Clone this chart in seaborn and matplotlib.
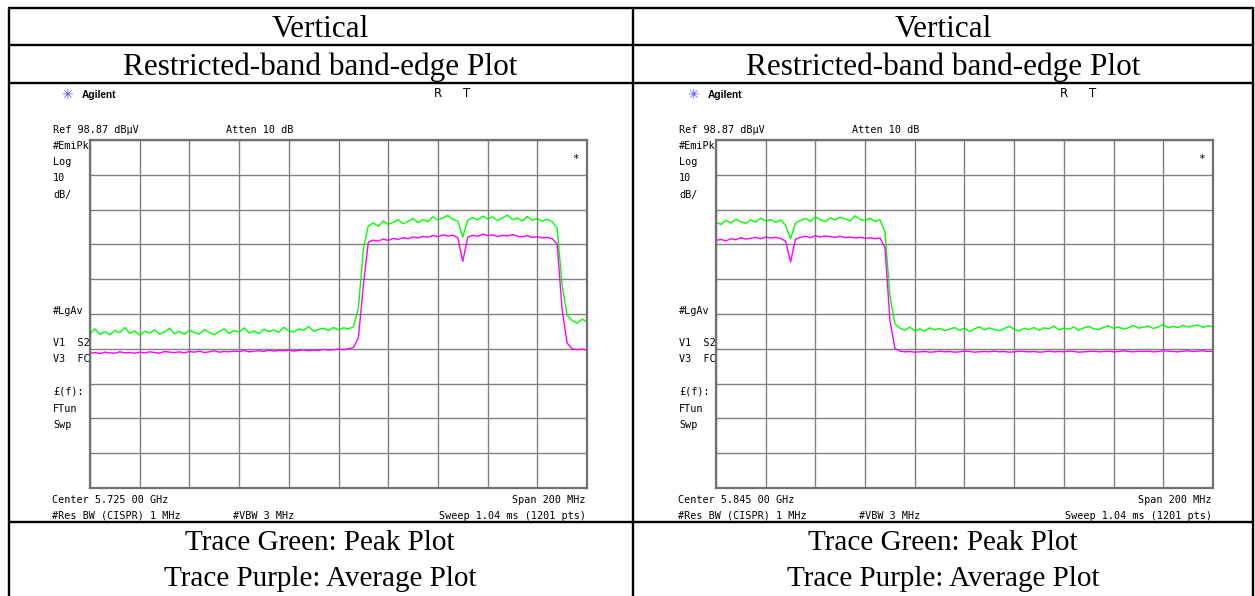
import numpy as np
import pandas as pd
import seaborn as sns
import matplotlib.pyplot as plt
from matplotlib.lines import Line2D

ref_level = 98.87
db_per_div = 10
span_mhz = 200
centers_mhz = [5725.0, 5845.0]
center_labels = ["Center 5.725 00 GHz", "Center 5.845 00 GHz"]

peak_left = [
    43.2, 44.6, 43.0, 43.8, 42.9, 44.1, 43.5, 45.0, 43.3, 44.0,
    42.8, 43.9, 43.4, 44.3, 43.1, 43.7, 44.8, 43.2, 43.9, 43.0,
    44.2, 43.5, 43.1, 44.4, 43.6, 42.9, 43.8, 44.6, 43.3, 44.1,
    43.7, 44.9, 43.4, 44.0, 43.2, 44.5, 43.8, 44.3, 43.6, 45.1,
    44.0, 43.7, 44.6, 44.2, 45.3, 43.9, 44.4, 44.8, 44.1, 45.0,
    44.3, 44.9, 44.6, 45.2, 50.5, 67.5, 74.2,
    75.0, 74.1, 75.6, 74.6, 75.2, 76.0, 74.8, 75.5, 76.3, 75.1,
    76.0, 75.4, 76.8, 75.9, 76.5, 77.2, 76.1, 75.6, 71.0,
    75.8, 76.6, 75.9, 77.0, 76.2, 76.8, 75.7, 76.5, 77.3, 76.0,
    76.4, 75.6, 76.9, 75.8, 76.3, 75.5, 76.1, 75.4,
    73.5, 57.0, 48.5, 47.0, 46.2, 47.4, 46.6,
]
avg_left = [
    37.6, 37.8, 37.5, 37.9, 37.7, 37.6, 38.0, 37.7, 37.8, 37.6,
    37.9, 37.7, 38.0, 37.8, 37.6, 38.1, 37.9, 37.8, 38.0, 37.7,
    38.1, 37.9, 38.2, 37.8, 38.0, 38.3, 37.9, 38.1, 38.0, 38.2,
    38.1, 38.4, 38.0, 38.2, 38.3, 38.1, 38.5, 38.2, 38.4, 38.3,
    38.5, 38.2, 38.4, 38.6, 38.3, 38.5, 38.4, 38.7, 38.5, 38.6,
    38.8, 38.6, 38.9, 39.2, 42.0, 57.0, 69.5,
    70.1, 69.8, 70.4, 70.0, 70.6, 70.3, 70.8, 70.5, 71.0, 70.7,
    71.2, 70.9, 71.4, 71.1, 71.6, 71.3, 71.5, 70.8, 64.0,
    70.9, 71.5, 71.2, 71.8, 71.4, 71.6, 71.1, 71.5, 71.3, 71.7,
    71.2, 71.0, 71.4, 70.9, 71.1, 70.7, 70.9, 70.5,
    69.0, 50.0, 40.5, 38.9, 38.6, 38.8, 38.5,
]
peak_right = [
    75.2, 74.6, 75.8, 75.0, 76.1, 75.4, 74.9, 75.9, 75.3, 76.4,
    75.6, 76.0, 75.2, 75.9, 74.4, 70.5,
    75.0, 75.8, 76.3, 75.5, 76.8, 76.0, 75.4, 76.5, 75.9, 76.7,
    76.2, 75.6, 77.1, 76.0, 75.8, 76.4, 75.5, 75.9,
    72.5, 54.0, 46.0,
    44.8, 44.2, 45.1, 44.0, 44.6, 43.9, 44.9, 44.3, 44.7, 44.1,
    44.5, 45.0, 44.2, 44.8, 43.8, 44.6, 45.2, 44.3, 44.9, 44.4,
    44.1, 44.7, 45.3, 44.5, 44.0, 44.8, 44.4, 45.0, 44.2, 44.9,
    44.6, 45.4, 44.3, 44.8, 44.5, 45.1, 44.2, 44.9, 45.3, 44.6,
    44.4, 45.0, 45.5, 44.7, 45.2, 44.5, 44.9, 45.6, 44.8, 45.1,
    45.4, 44.7, 45.2, 45.8, 44.9, 45.3, 45.0, 45.6, 45.1, 45.4,
    45.7, 45.0, 45.5, 45.2,
]
avg_right = [
    70.0, 70.3, 69.9, 70.5, 70.2, 70.8, 70.4, 70.6, 70.9, 70.5,
    71.0, 70.7, 70.9, 70.6, 69.8, 63.8,
    70.4, 70.9, 71.2, 70.8, 71.4, 71.0, 71.3, 71.1, 70.9, 71.2,
    70.8, 71.0, 70.7, 70.9, 70.6, 70.8, 70.5, 70.7,
    68.0, 47.0, 39.0,
    38.2, 38.0, 38.1, 37.9, 38.0, 38.1, 37.9, 38.0, 38.2, 38.0,
    38.1, 37.9, 38.0, 38.2, 38.1, 37.9, 38.0, 38.1, 38.0, 38.2,
    38.0, 38.1, 37.9, 38.0, 38.2, 38.1, 38.0, 38.1, 37.9, 38.0,
    38.2, 38.0, 38.1, 38.0, 38.2, 38.1, 37.9, 38.0, 38.1, 38.2,
    38.0, 38.1, 38.2, 38.0, 38.1, 38.3, 38.1, 38.0, 38.2, 38.1,
    38.2, 38.0, 38.1, 38.3, 38.2, 38.1, 38.0, 38.2, 38.3, 38.1,
    38.2, 38.3, 38.1, 38.2,
]
traces = [(peak_left, avg_left), (peak_right, avg_right)]

W, H = 1255, 596
sns.set_style("white")
plt.rcParams["text.color"] = "black"
fig = plt.figure(figsize=(W / 100, H / 100), dpi=100)


def px(x, y):
    return x / W, 1 - y / H


mono = "DejaVu Sans Mono"
serif = "Liberation Serif"

# Tabla de Word alrededor de las capturas
table_lines = [
    ([8.5, 8.5], [7.5, 596]), ([632.5, 632.5], [7.5, 596]), ([1253, 1253], [7.5, 596]),
    ([8.5, 1253], [7.5, 7.5]), ([8.5, 1253], [45, 45]), ([8.5, 1253], [83, 83]),
    ([8.5, 1253], [522, 522]),
]
for xs, ys in table_lines:
    fig.add_artist(Line2D([x / W for x in xs], [1 - y / H for y in ys], color="black", lw=1.7))

for k, (peak, avg) in enumerate(traces):
    dx = 626 * k
    colc = 320 + 623 * k
    fig.text(*px(colc, 37), "Vertical", family=serif, fontsize=22.5, ha="center", va="baseline")
    fig.text(*px(colc, 75), "Restricted-band band-edge Plot", family=serif, fontsize=22.5,
             ha="center", va="baseline")
    fig.text(*px(colc, 550), "Trace Green: Peak Plot", family=serif, fontsize=21,
             ha="center", va="baseline")
    fig.text(*px(colc, 586), "Trace Purple: Average Plot", family=serif, fontsize=21,
             ha="center", va="baseline")

    # Pantalla del analizador
    gl, gt, gr, gb = 90 + dx, 140, 587 + dx, 488
    ax = fig.add_axes([gl / W, 1 - gb / H, (gr - gl) / W, (gb - gt) / H])
    c = centers_mhz[k]
    f0, f1 = c - span_mhz / 2, c + span_mhz / 2
    freq = np.linspace(f0, f1, len(peak))
    df = pd.DataFrame({"freq": freq, "peak": peak, "avg": avg})
    sns.lineplot(data=df, x="freq", y="peak", color="#00ff00", lw=1.0, ax=ax)
    sns.lineplot(data=df, x="freq", y="avg", color="#ff00ff", lw=1.0, ax=ax)
    ax.set_xlim(f0, f1)
    ax.set_ylim(ref_level - 10 * db_per_div, ref_level)
    ax.set_xticks(np.linspace(f0, f1, 11))
    ax.set_yticks(np.linspace(ref_level - 10 * db_per_div, ref_level, 11))
    ax.grid(True, color="#808080", lw=1.0)
    ax.tick_params(length=0, labelbottom=False, labelleft=False)
    ax.set_xlabel("")
    ax.set_ylabel("")
    for s in ax.spines.values():
        s.set_color("#707070")
        s.set_linewidth(1.6)

    fig.text(*px(67 + dx, 95), "\u2733", color="#4a4aff", fontsize=10, ha="center", va="center")
    fig.text(*px(82 + dx, 95), "Agilent", family="Liberation Sans", weight="bold",
             fontsize=7.3, ha="left", va="center")
    fig.text(*px(438 + dx, 94), "R", family="DejaVu Sans", fontsize=8.5, ha="center", va="center")
    fig.text(*px(467 + dx, 94), "T", family="DejaVu Sans", fontsize=8.5, ha="center", va="center")
    fig.text(*px(53 + dx, 130), "Ref 98.87 dB\u00b5V", family=mono, fontsize=7.3,
             ha="left", va="center")
    fig.text(*px(226 + dx, 130), "Atten 10 dB", family=mono, fontsize=7.3,
             ha="left", va="center")
    side = [("#EmiPk", 146), ("Log", 162), ("10", 178), ("dB/", 195), ("#LgAv", 311),
            ("V1  S2", 343), ("V3  FC", 359), ("\u00a3(f):", 392), ("FTun", 409), ("Swp", 425)]
    for lab, yy in side:
        fig.text(*px(53 + dx, yy), lab, family=mono, fontsize=7.3, ha="left", va="center")
    fig.text(*px(576 + dx, 159), "*", family=mono, fontsize=8, ha="center", va="center")
    fig.text(*px(52 + dx, 500), center_labels[k], family=mono, fontsize=7.3,
             ha="left", va="center")
    fig.text(*px(586 + dx, 500), "Span 200 MHz", family=mono, fontsize=7.3,
             ha="right", va="center")
    fig.text(*px(52 + dx, 516), "#Res BW (CISPR) 1 MHz", family=mono, fontsize=7.3,
             ha="left", va="center")
    fig.text(*px(233 + dx, 516), "#VBW 3 MHz", family=mono, fontsize=7.3,
             ha="left", va="center")
    fig.text(*px(586 + dx, 516), "Sweep 1.04 ms (1201 pts)", family=mono, fontsize=7.3,
             ha="right", va="center")

fig.savefig("out.png", dpi=100)
